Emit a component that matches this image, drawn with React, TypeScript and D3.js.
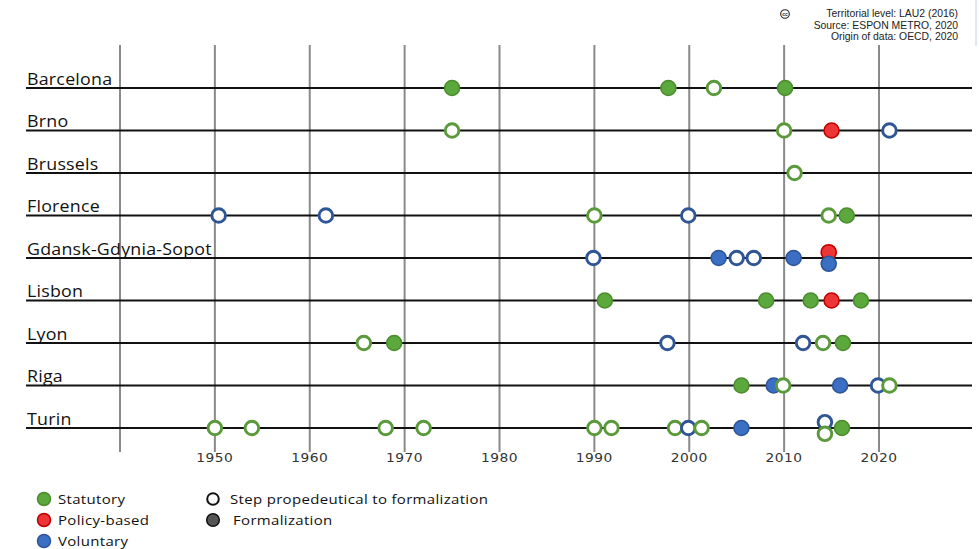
import React from "react";
import * as d3 from "d3";

type Ev = { year: number; kind: "S" | "P" | "V"; formal: boolean };

const cities = [
  "Barcelona",
  "Brno",
  "Brussels",
  "Florence",
  "Gdansk-Gdynia-Sopot",
  "Lisbon",
  "Lyon",
  "Riga",
  "Turin",
];

const ev = (year: number, kind: "S" | "P" | "V", formal: boolean): Ev => ({ year, kind, formal });

const barcelona: Ev[] = [ev(1975, "S", true), ev(1997.8, "S", true), ev(2002.6, "S", false), ev(2010.1, "S", true)];
const brno: Ev[] = [ev(1975, "S", false), ev(2010, "S", false), ev(2015, "P", true), ev(2021.1, "V", false)];
const brussels: Ev[] = [ev(2011.1, "S", false)];
const florence: Ev[] = [
  ev(1950.4, "V", false), ev(1961.7, "V", false), ev(1990, "S", false), ev(1999.9, "V", false),
  ev(2014.7, "S", false), ev(2016.6, "S", true),
];
const gdansk: Ev[] = [
  ev(1989.9, "V", false), ev(2003.1, "V", true), ev(2005, "V", false), ev(2006.8, "V", false),
  ev(2011, "V", true), ev(2014.7, "P", true), ev(2014.7, "V", true),
];
const lisbon: Ev[] = [ev(1991.1, "S", true), ev(2008.1, "S", true), ev(2012.8, "S", true), ev(2015, "P", true), ev(2018.1, "S", true)];
const lyon: Ev[] = [
  ev(1965.7, "S", false), ev(1968.9, "S", true), ev(1997.7, "V", false), ev(2012, "V", false),
  ev(2014.1, "S", false), ev(2016.2, "S", true),
];
const riga: Ev[] = [
  ev(2005.5, "S", true), ev(2008.9, "V", true), ev(2009.9, "S", false), ev(2015.9, "V", true),
  ev(2019.9, "V", false), ev(2021.1, "S", false),
];
const turin: Ev[] = [
  ev(1950, "S", false), ev(1953.9, "S", false), ev(1968, "S", false), ev(1972, "S", false),
  ev(1990, "S", false), ev(1991.8, "S", false), ev(1998.5, "S", false), ev(1999.9, "V", false),
  ev(2001.3, "S", false), ev(2005.5, "V", true), ev(2014.3, "V", false), ev(2014.3, "S", false),
  ev(2016.1, "S", true),
];

const cityEvents: Ev[][] = [barcelona, brno, brussels, florence, gdansk, lisbon, lyon, riga, turin];

const gridYears = [1940, 1950, 1960, 1970, 1980, 1990, 2000, 2010, 2020];
const tickLabels = ["1950", "1960", "1970", "1980", "1990", "2000", "2010", "2020"];

const sourceLines = ["Territorial level: LAU2 (2016)", "Source: ESPON METRO, 2020", "Origin of data: OECD, 2020"];
const legendCol1 = ["Statutory", "Policy-based", "Voluntary"];
const legendCol2 = ["Step propedeutical to formalization", "Formalization"];

const W = 979;
const H = 549;

const colors = {
  S: { fill: "#5ba83c", stroke: "#4c8b2f", ring: "#5a9a3a" },
  P: { fill: "#ee3535", stroke: "#c00000", ring: "#c00000" },
  V: { fill: "#3b6fc4", stroke: "#2f5597", ring: "#2f5597" },
};

const x = d3.scaleLinear().domain([1940, 2020]).range([120, 879]);
const y = d3.scalePoint<string>().domain(cities).range([88, 428]);

const labelFont = "'Open Sans', 'Noto Sans', sans-serif";

function Marker({ cx, cy, e }: { cx: number; cy: number; e: Ev }) {
  const c = colors[e.kind];
  if (e.formal) {
    return <circle cx={cx} cy={cy} r={7.5} fill={c.fill} stroke={c.stroke} strokeWidth={1.6} />;
  }
  return <circle cx={cx} cy={cy} r={6.8} fill="#ffffff" stroke={c.ring} strokeWidth={2.9} />;
}

export default function App() {
  const lineX0 = 26;
  const lineX1 = 972;
  return (
    <svg width={W} height={H} style={{ position: "absolute", left: 0, top: 0, background: "#fff" }}>
      <rect width={W} height={H} fill="#fff" />
      <line x1={976} x2={976} y1={0} y2={46} stroke="#bcd3ec" strokeWidth={1} />
      {/* source text */}
      <g fontFamily="'Liberation Sans', Arial, sans-serif" fontSize={10.4} fill="#222" textAnchor="end">
        {sourceLines.map((t, i) => (
          <text key={t} x={958} y={17 + i * 11.5}>
            {t}
          </text>
        ))}
      </g>
      <g>
        <circle cx={785} cy={14} r={4.3} fill="#fff" stroke="#222" strokeWidth={1.1} />
        <text x={785} y={15.8} fontSize={5} fontFamily="'Liberation Sans', Arial" textAnchor="middle" fontWeight="bold" fill="#222">
          cc
        </text>
      </g>
      {/* vertical grid */}
      {gridYears.map((yr) => (
        <line key={yr} x1={x(yr)} x2={x(yr)} y1={45} y2={452} stroke="#8a8a8a" strokeWidth={2} />
      ))}
      {/* tick labels */}
      <g fontFamily="'DejaVu Sans', Verdana, sans-serif" fontSize={11.5} fill="#333" textAnchor="middle">
        {tickLabels.map((t) => (
          <text key={t} transform={`translate(${x(+t)},462) scale(1.2,1)`} letterSpacing={0.4}>
            {t}
          </text>
        ))}
      </g>
      {/* rows */}
      {cities.map((c) => (
        <g key={c}>
          <line x1={lineX0} x2={lineX1} y1={y(c)!} y2={y(c)!} stroke="#111" strokeWidth={2.2} />
          <text
            transform={`translate(27,${y(c)! - 3.5}) scale(1.15,1)`}
            fontFamily={labelFont}
            fontSize={15.5}
            fill="#111"
            letterSpacing={0.2}
          >
            {c}
          </text>
        </g>
      ))}
      {/* markers */}
      {cities.map((c, ci) => {
        const evs = cityEvents[ci];
        const counts = d3.rollup(evs, (v) => v.length, (d) => d.year);
        const seen = new Map<number, number>();
        return (
          <g key={c}>
            {evs.map((e, i) => {
              const n = counts.get(e.year) || 1;
              const k = seen.get(e.year) || 0;
              seen.set(e.year, k + 1);
              const off = n > 1 ? (k - (n - 1) / 2) * 11.6 : 0;
              return <Marker key={i} cx={x(e.year)} cy={y(c)! + off} e={e} />;
            })}
          </g>
        );
      })}
      {/* legend */}
      <g fontFamily={labelFont} fontSize={13.5} fill="#111">
        {legendCol1.map((t, i) => {
          const k = (["S", "P", "V"] as const)[i];
          return (
            <g key={t}>
              <circle cx={44} cy={499 + i * 21} r={6.5} fill={colors[k].fill} stroke={colors[k].stroke} strokeWidth={1.5} />
              <text transform={`translate(58,${504 + i * 21}) scale(1.11,1)`} letterSpacing={0.3}>
                {t}
              </text>
            </g>
          );
        })}
        <circle cx={213} cy={499} r={5.8} fill="#fff" stroke="#111" strokeWidth={2} />
        <text transform="translate(230,504) scale(1.11,1)" letterSpacing={0.3}>
          {legendCol2[0]}
        </text>
        <circle cx={213} cy={520} r={6.3} fill="#555" stroke="#111" strokeWidth={1.5} />
        <text transform="translate(233,525) scale(1.11,1)" letterSpacing={0.3}>
          {legendCol2[1]}
        </text>
      </g>
    </svg>
  );
}
